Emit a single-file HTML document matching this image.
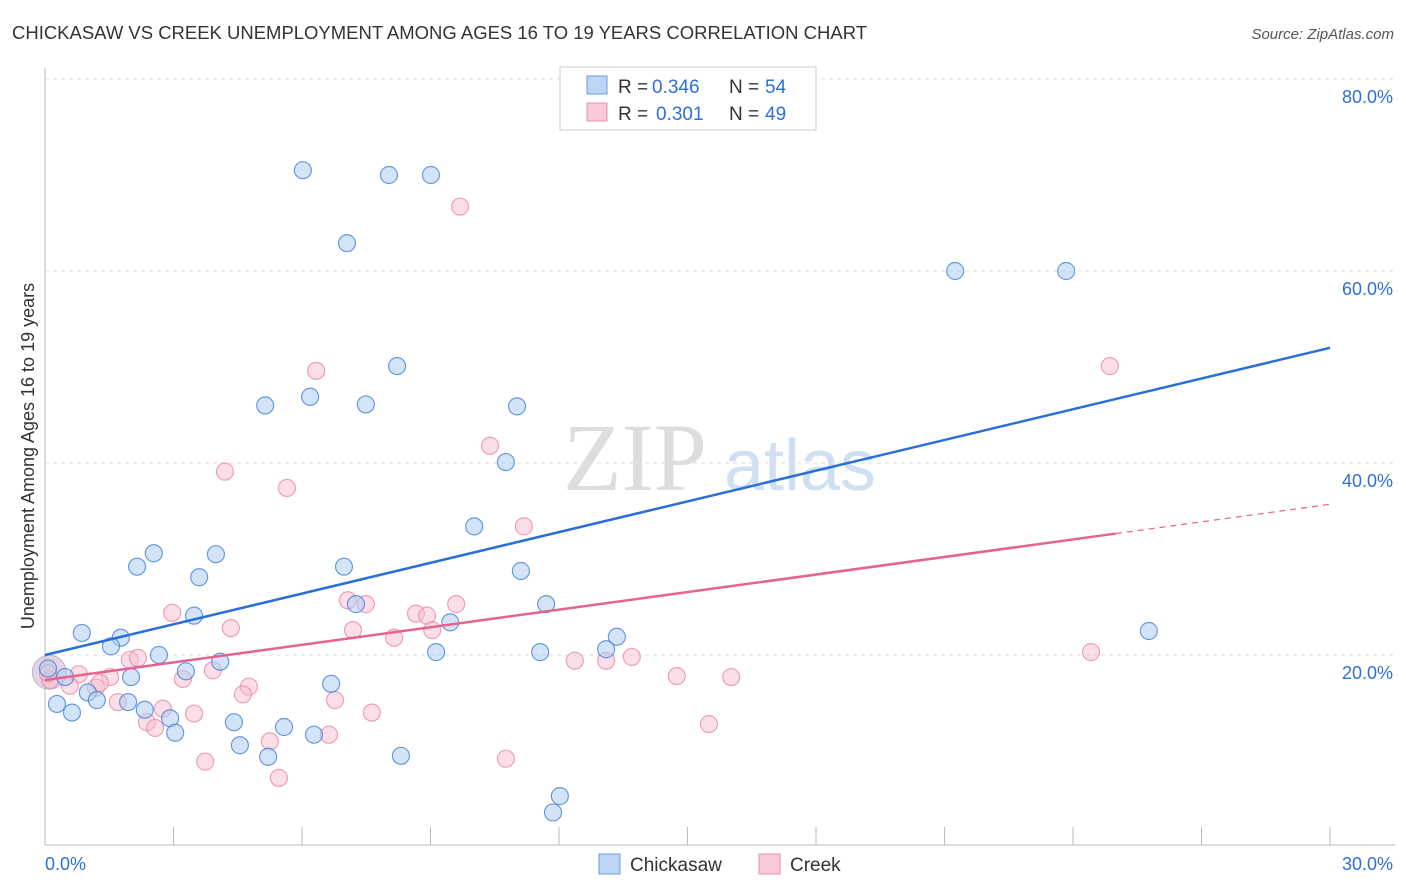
<!DOCTYPE html>
<html><head><meta charset="utf-8"><style>
body{margin:0;background:#fff;font-family:"Liberation Sans",sans-serif;}
#c{position:absolute;left:0;top:0;}
</style></head><body>
<svg id="c" width="1406" height="892">
<text x="12" y="39" font-size="18" fill="#333" textLength="855" lengthAdjust="spacingAndGlyphs">CHICKASAW VS CREEK UNEMPLOYMENT AMONG AGES 16 TO 19 YEARS CORRELATION CHART</text>
<text x="1394" y="39" font-size="15" fill="#555" font-style="italic" text-anchor="end">Source: ZipAtlas.com</text>
<g><text x="635" y="490" font-size="96" font-family="Liberation Serif,serif" fill="#ddd" text-anchor="middle">ZIP</text><text x="800" y="490" font-size="72" fill="#cfe0f3" text-anchor="middle">atlas</text></g>
<g id="grid"></g><g id="axes"></g><g id="pts"></g><g id="lines"></g>
<text x="34" y="456" font-size="18" fill="#333" text-anchor="middle" transform="rotate(-90 34 456)">Unemployment Among Ages 16 to 19 years</text>
<g>
<rect x="560" y="67" width="256" height="63" fill="#fff" stroke="#ccc"/>
<rect x="587" y="76" width="20" height="18" fill="#bcd5f5" stroke="#6a9be0"/>
<rect x="587" y="103" width="20" height="18" fill="#f9c9d7" stroke="#e891ab"/>
<text x="618" y="93" font-size="19" fill="#333">R =</text><text x="652" y="93" font-size="19" fill="#2f6fd6">0.346</text>
<text x="729" y="93" font-size="19" fill="#333">N =</text><text x="765" y="93" font-size="19" fill="#2f6fd6">54</text>
<text x="618" y="120" font-size="19" fill="#333">R =</text><text x="656" y="120" font-size="19" fill="#2f6fd6">0.301</text>
<text x="729" y="120" font-size="19" fill="#333">N =</text><text x="765" y="120" font-size="19" fill="#2f6fd6">49</text>
</g>
<g>
<rect x="599" y="854" width="21" height="20" fill="#bcd5f5" stroke="#6a9be0"/>
<text x="630" y="871" font-size="19" fill="#333">Chickasaw</text>
<rect x="759" y="854" width="21" height="20" fill="#f9c9d7" stroke="#e891ab"/>
<text x="790" y="871" font-size="19" fill="#333">Creek</text>
</g>
</svg>
<script>
const blueX=[6.02,8.03,9.01,7.05,21.25,23.84,8.22,5.14,6.19,7.49,11.02,10.76,10.02,2.54,3.99,2.15,3.60,6.98,11.11,7.26,11.70,3.48,0.86,1.77,1.54,9.46,13.35,13.10,9.13,11.56,25.77,2.66,4.09,3.29,0.07,0.47,2.01,6.68,1.00,0.28,1.21,1.94,2.33,2.92,0.63,4.41,3.04,5.58,6.28,4.55,5.21,8.31,12.02,11.86];
const blueY=[70.5,70.0,70.0,62.9,60.0,60.0,50.1,46.0,46.9,46.1,45.9,40.1,33.4,30.6,30.5,29.2,28.1,29.2,28.75,25.3,25.3,24.1,22.3,21.8,20.9,23.4,21.9,20.6,20.3,20.3,22.5,20.0,19.3,18.3,18.6,17.7,17.7,17.0,16.1,14.9,15.3,15.1,14.3,13.4,14.0,13.0,11.9,12.5,11.7,10.6,9.4,9.5,5.3,3.6];
const pinkX=[9.69,24.86,6.33,10.39,4.20,5.65,11.18,7.07,7.49,9.60,2.97,8.66,8.92,4.34,7.19,9.04,8.15,1.98,2.17,12.37,13.10,13.70,24.42,3.92,0.79,1.52,3.22,14.75,16.02,0.12,0.58,1.19,4.76,4.62,1.70,6.77,2.75,3.48,7.63,2.38,2.57,15.50,5.25,6.63,3.74,5.46,10.76,0.07,1.28];
const pinkY=[66.7,50.1,49.6,41.8,39.1,37.4,33.4,25.7,25.3,25.3,24.4,24.3,24.1,22.8,22.6,22.6,21.8,19.5,19.7,19.4,19.4,19.8,20.3,18.4,18.0,17.7,17.5,17.8,17.7,17.4,16.8,16.6,16.7,15.9,15.1,15.3,14.4,13.9,14.0,13.0,12.4,12.8,11.0,11.7,8.9,7.2,9.2,18.1,17.1];
const blueLine=[20.0,52.0];
const pinkLine=[17.4,35.7];
const pinkSolidEnd=25.0;
const yTicks=[20,40,60,80];
const xTicks=[0,3,6,9,12,15,18,21,24,27,30];
const NS='http://www.w3.org/2000/svg';
const sx=v=>45+v*1285/30, sy=v=>847-v*9.6;
function mk(p,t,a){const e=document.createElementNS(NS,t);for(const k in a)e.setAttribute(k,a[k]);p.appendChild(e);return e;}
const grid=document.getElementById('grid'),axes=document.getElementById('axes'),pts=document.getElementById('pts'),lines=document.getElementById('lines');
yTicks.forEach(t=>{
 const l=mk(grid,'line',{x1:45,x2:1395,y1:sy(t),y2:sy(t),stroke:'#ddd','stroke-dasharray':'4,4'});
 
 
 const tx=mk(grid,'text',{x:1393,y:sy(t)+24,'font-size':18,fill:'#2f6fd6','text-anchor':'end'});
 tx.textContent=t.toFixed(1)+'%';
 
 
});
mk(axes,'line',{x1:45,x2:45,y1:68,y2:845,stroke:'#bbb'});
mk(axes,'line',{x1:45,x2:1395,y1:845,y2:845,stroke:'#bbb'});
xTicks.forEach(t=>{
 const l=mk(axes,'line',{x1:sx(t),x2:sx(t),y1:827,y2:845,stroke:'#bbb'});
 
 
});
[[0,'0.0%',45,'start'],[30,'30.0%',1393,'end']].forEach(d=>{
 const tx=mk(axes,'text',{x:d[2],y:870,'font-size':18,fill:'#2f6fd6','text-anchor':d[3]});
 tx.textContent=d[1];
 
 
});
const big=mk(pts,'circle',{cx:sx(0.1),cy:sy(18.2),r:17,fill:'rgba(200,170,200,0.5)',stroke:'rgba(170,140,190,0.6)'});


pinkX.forEach((x,i)=>{
 const c=mk(pts,'circle',{cx:sx(x),cy:sy(pinkY[i]),r:8.5,fill:'rgba(248,190,208,0.5)',stroke:'rgba(232,140,168,0.8)','stroke-width':1.2});
 
 
});
blueX.forEach((x,i)=>{
 const c=mk(pts,'circle',{cx:sx(x),cy:sy(blueY[i]),r:8.5,fill:'rgba(175,205,242,0.55)',stroke:'rgba(70,130,215,0.8)','stroke-width':1.2});
 
 
});
const pl=t=>pinkLine[0]+(pinkLine[1]-pinkLine[0])*t/30;
let e=mk(lines,'line',{x1:sx(0),y1:sy(blueLine[0]),x2:sx(30),y2:sy(blueLine[1]),stroke:'#2a6fd8','stroke-width':2.5});


e=mk(lines,'line',{x1:sx(0),y1:sy(pl(0)),x2:sx(pinkSolidEnd),y2:sy(pl(pinkSolidEnd)),stroke:'#e5638e','stroke-width':2.5});


e=mk(lines,'line',{x1:sx(pinkSolidEnd),y1:sy(pl(pinkSolidEnd)),x2:sx(30),y2:sy(pl(30)),stroke:'#e5638e','stroke-width':1.2,'stroke-dasharray':'6,5'});


</script>
</body></html>
